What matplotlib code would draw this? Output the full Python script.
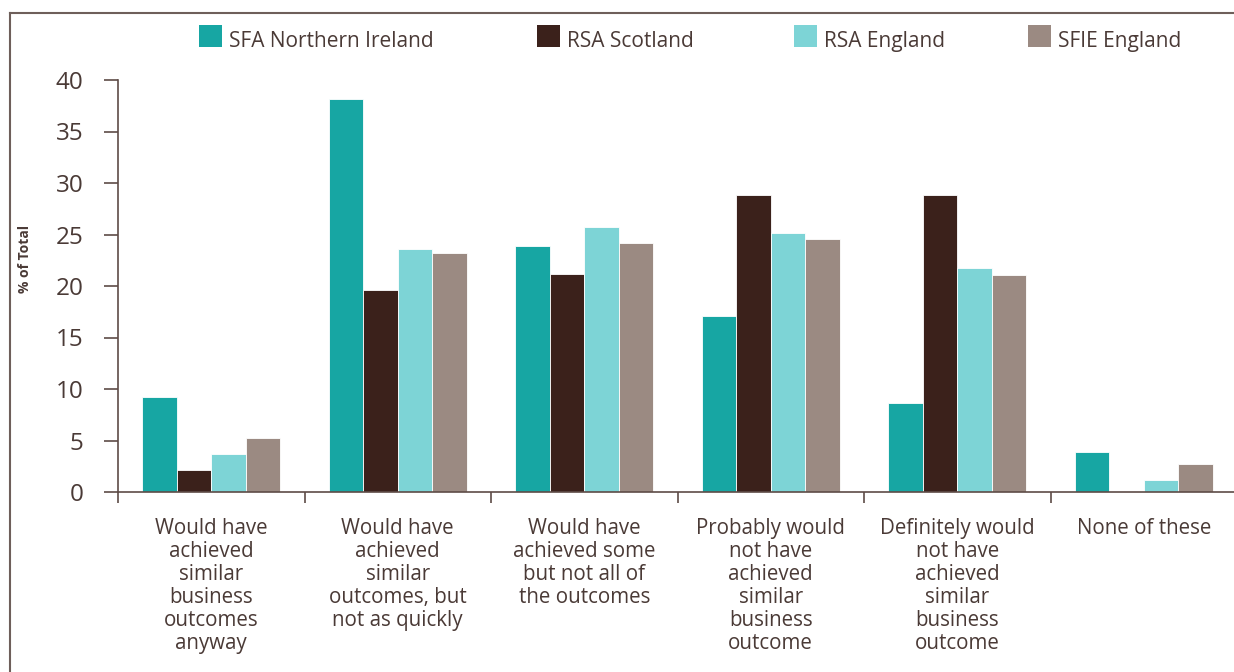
#!/usr/bin/env python3
"""Grouped bar chart: business outcomes without assistance, by scheme."""

import matplotlib
matplotlib.use("Agg")
import matplotlib.pyplot as plt
import numpy as np
from matplotlib.lines import Line2D
from matplotlib.patches import Rectangle

# ---------------------------------------------------------------------------
# data
# ---------------------------------------------------------------------------

categories = [
    "Would have\nachieved\nsimilar\nbusiness\noutcomes\nanyway",
    "Would have\nachieved\nsimilar\noutcomes, but\nnot as quickly",
    "Would have\nachieved some\nbut not all of\nthe outcomes",
    "Probably would\nnot have\nachieved\nsimilar\nbusiness\noutcome",
    "Definitely would\nnot have\nachieved\nsimilar\nbusiness\noutcome",
    "None of these",
]
series_names = ["SFA Northern Ireland", "RSA Scotland", "RSA England", "SFIE England"]

sfa_ni      = [9.2, 38.2, 23.9, 17.1, 8.6, 3.9]
rsa_scot    = [2.1, 19.6, 21.2, 28.8, 28.8, 0.0]
rsa_eng     = [3.7, 23.6, 25.7, 25.1, 21.7, 1.2]
sfie_eng    = [5.2, 23.2, 24.2, 24.6, 21.1, 2.7]

y_ticks = [0, 5, 10, 15, 20, 25, 30, 35, 40]

# ---------------------------------------------------------------------------
# style
# ---------------------------------------------------------------------------

colors    = ["#17a6a3", "#3b211b", "#7dd4d6", "#9b8a82"]
txt_col   = "#4a3a36"
axis_col  = "#5e4c47"
frame_col = "#6e5f5a"

plt.rcParams["font.family"] = ["Open Sans", "DejaVu Sans"]

W, H = 1234, 672
fig = plt.figure(figsize=(W / 100, H / 100), dpi=100)

# axes in pixel terms: x 118..1237, y 80..492 (top-down)
ax = fig.add_axes([118 / W, (H - 492) / H, 1119 / W, 412 / H])

n = len(categories)
x = np.arange(n)
bw = 0.185
all_series = [sfa_ni, rsa_scot, rsa_eng, sfie_eng]
for k, vals in enumerate(all_series):
    ax.bar(x + (k - 1.5) * bw, vals, width=bw, color=colors[k],
           edgecolor="white", linewidth=0.6, zorder=2)

ax.set_xlim(-0.5, n - 0.5)
ax.set_ylim(0, 40)

# group separator ticks (major) and category labels (minor)
ax.set_xticks(np.arange(n + 1) - 0.5)
ax.set_xticklabels([])
ax.set_xticks(x, minor=True)
ax.set_xticklabels(categories, minor=True, fontsize=14.8, color=txt_col,
                   linespacing=1.13, va="top", ha="center")
ax.tick_params(axis="x", which="major", direction="out", length=8,
               width=1.2, color=axis_col)
ax.tick_params(axis="x", which="minor", length=0, pad=18.5)

ax.set_yticks(y_ticks)
ax.set_yticklabels([str(t) for t in y_ticks], fontsize=17.5, color=txt_col)
ax.tick_params(axis="y", direction="out", length=10, width=1.2,
               color=axis_col, pad=15)

for side in ("top", "right"):
    ax.spines[side].set_visible(False)
for side in ("left", "bottom"):
    ax.spines[side].set_color(axis_col)
    ax.spines[side].set_linewidth(1.2)

fig.text(25 / W, 1 - 259 / H, "% of Total", rotation=90, ha="center",
         va="center", fontsize=10, fontweight="bold", color=txt_col)

# ---------------------------------------------------------------------------
# legend (manual, to match the uneven spacing of the original)
# ---------------------------------------------------------------------------

legend_x = [199, 537, 794, 1028]
for k, name in enumerate(series_names):
    x0 = legend_x[k]
    fig.add_artist(Rectangle((x0 / W, 1 - 47 / H), 23 / W, 22 / H,
                             transform=fig.transFigure, facecolor=colors[k],
                             edgecolor="none"))
    fig.text((x0 + 30) / W, 1 - 47 / H, name, ha="left", va="baseline",
             fontsize=15, color=txt_col)

# outer frame (left and top edges)
fig.add_artist(Line2D([10 / W, 10 / W], [0, 1 - 13 / H],
                      transform=fig.transFigure, color=frame_col, lw=1.5))
fig.add_artist(Line2D([10 / W, 1], [1 - 13 / H, 1 - 13 / H],
                      transform=fig.transFigure, color=frame_col, lw=1.5))

fig.savefig("out.png", dpi=100)
